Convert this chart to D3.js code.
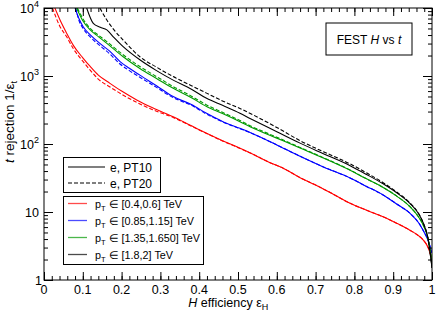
<!DOCTYPE html>
<html>
<head>
<meta charset="utf-8">
<script src="https://cdn.jsdelivr.net/npm/d3@7"></script>
<style>
  body { margin: 0; background: #fff; }
  svg { font-family: "Liberation Sans", Arial, sans-serif; }
  .axis path.domain { display: none; }
  .axis line { stroke: #000; stroke-width: 1; }
</style>
</head>
<body>
<svg width="436" height="315"></svg>
<script>
// values (efficiency, rejection)
const redEff   = [0.028,0.045,0.058,0.076,0.1,0.119,0.14,0.17,0.2,0.239,0.28,0.333,0.38,0.419,0.46,0.497,0.54,0.58,0.62,0.66,0.7,0.74,0.789,0.83,0.874,0.91,0.943,0.965,0.977,0.99,1.0];
const redPT10  = [10000,6000,4300,2800,1850,1380,1030,780,600,445,340,251,185,144,112,91,70,54,43,32,25,19,13.4,10.7,8.5,6.8,5.4,4.5,3.9,3.0,2.0];
const redEff20 = [0.022,0.04,0.058,0.076,0.1,0.119,0.14,0.17,0.2,0.239,0.28,0.333,0.38,0.419,0.46,0.497,0.54,0.58,0.62,0.66,0.7,0.74,0.789,0.83,0.874,0.91,0.943,0.965,0.977,0.99,1.0];
const redPT20  = [10000,5500,3800,2500,1650,1220,900,690,540,410,320,245,183,143,111,90,70,54,43,32,25,19,13.4,10.7,8.5,6.8,5.4,4.5,3.9,3.0,2.0];

const blueEff   = [0.08,0.09,0.101,0.12,0.144,0.17,0.196,0.22,0.247,0.29,0.333,0.38,0.419,0.46,0.505,0.531,0.6,0.66,0.72,0.789,0.83,0.874,0.91,0.943,0.965,0.977,0.99,1.0];
const bluePT10  = [10000,7000,5300,4000,3020,2300,1630,1300,1030,720,499,380,283,215,170,148,97,66,46,31.6,24,17.8,13,9.6,7,5.4,3.8,2.5];
const blueEff20 = [0.082,0.09,0.101,0.12,0.144,0.17,0.196,0.22,0.247,0.29,0.333,0.38,0.419,0.46,0.505,0.531,0.6,0.66,0.72,0.789,0.83,0.874,0.91,0.943,0.965,0.977,0.99,1.0];
const bluePT20  = [10000,6600,5000,3700,2800,2100,1500,1200,960,680,480,370,275,212,168,147,97,66,46,31.6,24,17.8,13,9.6,7,5.4,3.8,2.5];

const greenEff   = [0.084,0.1,0.119,0.14,0.162,0.204,0.247,0.29,0.333,0.38,0.419,0.46,0.505,0.531,0.6,0.66,0.72,0.789,0.83,0.874,0.91,0.943,0.965,0.977,0.99,1.0];
const greenPT10  = [10000,6500,4760,3800,3020,1920,1290,920,660,480,355,280,213,180,122,87,62,41,31,23,17,12,8.5,6.5,4,1.8];
const greenEff20 = [0.086,0.1,0.119,0.14,0.162,0.204,0.247,0.29,0.333,0.38,0.419,0.46,0.505,0.531,0.6,0.66,0.72,0.789,0.83,0.874,0.91,0.943,0.965,0.977,0.99,1.0];
const greenPT20  = [10000,7000,5000,4000,3200,2050,1380,980,700,505,375,292,222,186,126,89,63,41.5,31,23,17,12,8.5,6.5,4,1.8];

const blackEff   = [0.11,0.127,0.145,0.162,0.18,0.204,0.247,0.29,0.333,0.38,0.419,0.46,0.505,0.531,0.6,0.66,0.72,0.789,0.83,0.874,0.91,0.943,0.965,0.977,0.99,1.0];
const blackPT10  = [10000,5950,5200,4760,3700,2700,1730,1200,870,640,470,370,283,238,152,103,72,48,36,26,19,13.4,9.5,7,4,1.5];
const blackEff20 = [0.144,0.162,0.18,0.204,0.247,0.29,0.333,0.38,0.419,0.46,0.505,0.6,0.66,0.72,0.789,0.83,0.874,0.91,0.943,0.965,0.977,0.99,1.0];
const blackPT20  = [10000,6650,4800,3380,1920,1350,980,720,560,430,333,175,112,77,51,38,27,19.5,13.6,9.6,7,4,1.5];

const xTicks = [0,0.1,0.2,0.3,0.4,0.5,0.6,0.7,0.8,0.9,1];
const xTickLabels = ['0','0.1','0.2','0.3','0.4','0.5','0.6','0.7','0.8','0.9','1'];
const yTicks = [1,10,100,1000,10000];
const yTickLabels = [['1',''],['10',''],['10','2'],['10','3'],['10','4']];

const ptLabels = [['[0.4,0.6] TeV','#ff0000'],['[0.85,1.15] TeV','#0000ff'],['[1.35,1.650] TeV','#009900'],['[1.8,2] TeV','#000000']];

const series = [
  { eff: redEff,     val: redPT10,    color: '#ff0000', dash: null },
  { eff: redEff20,   val: redPT20,    color: '#ff0000', dash: '4,2' },
  { eff: blueEff,    val: bluePT10,   color: '#0000ff', dash: null },
  { eff: blueEff20,  val: bluePT20,   color: '#0000ff', dash: '4,2' },
  { eff: greenEff,   val: greenPT10,  color: '#009900', dash: null },
  { eff: greenEff20, val: greenPT20,  color: '#009900', dash: '4,2' },
  { eff: blackEff,   val: blackPT10,  color: '#000000', dash: null },
  { eff: blackEff20, val: blackPT20,  color: '#000000', dash: '4,2' }
];

const svg = d3.select('svg');
const margin = { top: 8, right: 4, bottom: 35, left: 44 };
const width = 436 - margin.left - margin.right;
const height = 315 - margin.top - margin.bottom;

const g = svg.append('g').attr('transform', `translate(${margin.left},${margin.top})`);

const x = d3.scaleLinear().domain([0, 1]).range([0, width]);
const y = d3.scaleLog().domain([1, 10000]).range([height, 0]);

svg.append('defs').append('clipPath').attr('id', 'clip')
  .append('rect').attr('width', width).attr('height', height);

// curves
const line = d3.line()
  .x(d => x(d[0]))
  .y(d => y(d[1]))
  .curve(d3.curveMonotoneX);

const curves = g.append('g').attr('clip-path', 'url(#clip)');
series.forEach(s => {
  curves.append('path')
    .datum(s.eff.map((e, i) => [e, s.val[i]]))
    .attr('fill', 'none')
    .attr('stroke', s.color)
    .attr('stroke-width', 1.1)
    .attr('stroke-dasharray', s.dash)
    .attr('d', line);
});

// ticks (inward, mirrored)
const minorX = d3.range(0, 1.0001, 0.02);
const minorY = [];
[1, 10, 100, 1000].forEach(b => { for (let k = 2; k <= 9; k++) minorY.push(b * k); });

g.append('g').attr('class', 'axis').attr('transform', `translate(0,${height})`)
  .call(d3.axisBottom(x).tickValues(xTicks).tickSize(-8).tickFormat(''));
g.append('g').attr('class', 'axis').attr('transform', `translate(0,${height})`)
  .call(d3.axisBottom(x).tickValues(minorX).tickSize(-4).tickFormat(''));
g.append('g').attr('class', 'axis')
  .call(d3.axisTop(x).tickValues(xTicks).tickSize(-8).tickFormat(''));
g.append('g').attr('class', 'axis')
  .call(d3.axisTop(x).tickValues(minorX).tickSize(-4).tickFormat(''));

g.append('g').attr('class', 'axis')
  .call(d3.axisLeft(y).tickValues(yTicks).tickSize(-9).tickFormat(''));
g.append('g').attr('class', 'axis')
  .call(d3.axisLeft(y).tickValues(minorY).tickSize(-4).tickFormat(''));
g.append('g').attr('class', 'axis').attr('transform', `translate(${width},0)`)
  .call(d3.axisRight(y).tickValues(yTicks).tickSize(-9).tickFormat(''));
g.append('g').attr('class', 'axis').attr('transform', `translate(${width},0)`)
  .call(d3.axisRight(y).tickValues(minorY).tickSize(-4).tickFormat(''));

// frame
g.append('rect').attr('width', width).attr('height', height)
  .attr('fill', 'none').attr('stroke', '#000').attr('stroke-width', 1);

// tick labels
g.append('g').selectAll('text').data(xTicks).join('text')
  .attr('x', d => x(d)).attr('y', height + 14)
  .attr('text-anchor', 'middle').attr('font-size', 12.5)
  .text((d, i) => xTickLabels[i]);

const yl = g.append('g').selectAll('text').data(yTicks).join('text')
  .attr('x', d => d === 1 ? -2 : -5).attr('y', d => y(d) + 5)
  .attr('text-anchor', 'end').attr('font-size', 12.5);
yl.append('tspan').text((d, i) => yTickLabels[i][0]);
yl.append('tspan').attr('dy', -6).attr('font-size', 9).text((d, i) => yTickLabels[i][1]);

// axis titles
const xt = g.append('text').attr('x', x(0.372)).attr('y', height + 27).attr('font-size', 12.5);
xt.append('tspan').attr('font-style', 'italic').text('H');
xt.append('tspan').text(' efficiency  \u03b5');
xt.append('tspan').attr('dy', 3).attr('font-size', 9).text('H');

const yt = svg.append('text')
  .attr('transform', `translate(14,122) rotate(-90)`)
  .attr('text-anchor', 'middle').attr('font-size', 13.5);
yt.append('tspan').attr('font-style', 'italic').text('t');
yt.append('tspan').text(' rejection  1/\u03b5');
yt.append('tspan').attr('dy', 3).attr('font-size', 9.5).text('t');

// annotation box
svg.append('rect').attr('x', 326).attr('y', 23).attr('width', 86).attr('height', 32)
  .attr('fill', '#fff').attr('stroke', '#000');
const ann = svg.append('text').attr('x', 369).attr('y', 44).attr('text-anchor', 'middle').attr('font-size', 12);
ann.append('tspan').text('FEST ');
ann.append('tspan').attr('font-style', 'italic').text('H');
ann.append('tspan').text(' vs ');
ann.append('tspan').attr('font-style', 'italic').text('t');

// legend 1: line styles
svg.append('rect').attr('x', 63.5).attr('y', 157.5).attr('width', 97).attr('height', 35)
  .attr('fill', '#fff').attr('stroke', '#000');
[['e, PT10', null, 167], ['e, PT20', '4,2', 183]].forEach(([t, dash, yy]) => {
  svg.append('line').attr('x1', 68).attr('x2', 105).attr('y1', yy).attr('y2', yy)
    .attr('stroke', '#000').attr('stroke-width', 1.1).attr('stroke-dasharray', dash);
  svg.append('text').attr('x', 110).attr('y', yy + 4.5).attr('font-size', 12).text(t);
});

// legend 2: pT bins
svg.append('rect').attr('x', 63.5).attr('y', 196.5).attr('width', 140).attr('height', 68)
  .attr('fill', '#fff').attr('stroke', '#000');
ptLabels.forEach(([t, c], i) => {
  const yy = 203.5 + i * 17;
  svg.append('line').attr('x1', 68).attr('x2', 87).attr('y1', yy).attr('y2', yy)
    .attr('stroke', c).attr('stroke-width', 1.3).attr('opacity', 0.7);
  const tx = svg.append('text').attr('x', 95).attr('y', yy + 4).attr('font-size', 10.8);
  tx.append('tspan').text('p');
  tx.append('tspan').attr('dy', 3).attr('font-size', 7.5).text('T');
  tx.append('tspan').attr('dy', -3).text(' \u2208 ' + t);
});
</script>
</body>
</html>
